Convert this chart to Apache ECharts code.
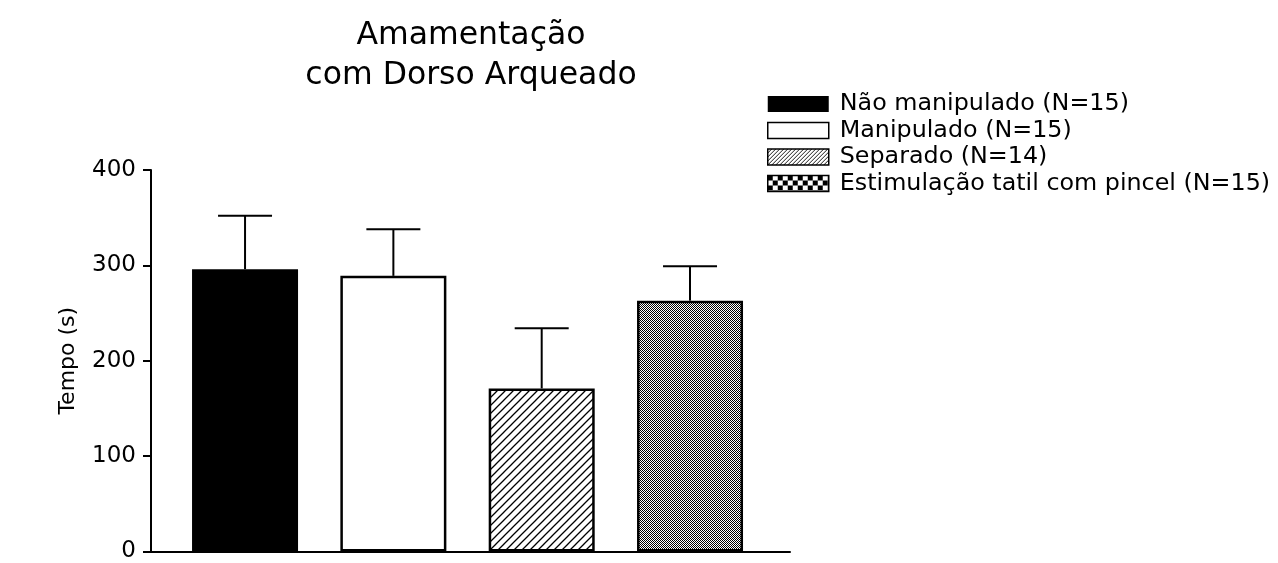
<!DOCTYPE html>
<html>
<head>
<meta charset="utf-8">
<script src="https://cdn.jsdelivr.net/npm/echarts@6/dist/echarts.min.js"></script>
<style>
  html, body { margin: 0; padding: 0; background: #fff; }
  #chart { width: 1278px; height: 563px; }
</style>
</head>
<body>
<div id="chart"></div>
<script>
// Group names (legend), mean time per group and the error (upper whisker) per group
const groups = ['Não manipulado (N=15)', 'Manipulado (N=15)', 'Separado (N=14)', 'Estimulação tatil com pincel (N=15)'];
const means = [296, 289, 171, 263];
const errors = [56, 49, 63, 36];
const yTicks = [0, 100, 200, 300, 400];

const FONT = 'DejaVu Sans';

// Fill patterns drawn on small canvases
function hatchPattern(size, width) {
  const c = document.createElement('canvas');
  c.width = c.height = size;
  const g = c.getContext('2d');
  g.fillStyle = '#fff';
  g.fillRect(0, 0, size, size);
  g.strokeStyle = '#000';
  g.lineWidth = width;
  g.beginPath();
  g.moveTo(0, size); g.lineTo(size, 0);
  g.moveTo(-size / 2, size / 2); g.lineTo(size / 2, -size / 2);
  g.moveTo(size / 2, size * 1.5); g.lineTo(size * 1.5, size / 2);
  g.stroke();
  return c;
}
function checkerPattern(cell) {
  const c = document.createElement('canvas');
  c.width = c.height = cell * 2;
  const g = c.getContext('2d');
  g.fillStyle = '#fff';
  g.fillRect(0, 0, cell * 2, cell * 2);
  g.fillStyle = '#000';
  g.fillRect(0, 0, cell, cell);
  g.fillRect(cell, cell, cell, cell);
  return c;
}

const barFills = [
  '#000',
  '#fff',
  { image: hatchPattern(8, 1.3), repeat: 'repeat' },
  { image: checkerPattern(1), repeat: 'repeat' }
];
const legendFills = [
  '#000',
  '#fff',
  { image: hatchPattern(4, 0.9), repeat: 'repeat' },
  { image: checkerPattern(5), repeat: 'repeat' }
];

const barSeries = groups.map((name, i) => ({
  name: name,
  type: 'bar',
  barWidth: 106,
  barGap: '-100%',
  data: [[i, means[i]]],
  itemStyle: { color: barFills[i], borderColor: '#000', borderWidth: i === 0 ? 0 : 2.5 },
  emphasis: { disabled: true },
  z: 2
}));

const errorSeries = {
  type: 'custom',
  name: 'erro',
  data: means.map((m, i) => [i, m, m + errors[i]]),
  z: 3,
  renderItem: function (params, api) {
    const x = api.value(0);
    const lo = api.coord([x, api.value(1)]);
    const hi = api.coord([x, api.value(2)]);
    const half = 27;
    const style = { stroke: '#000', lineWidth: 2 };
    return {
      type: 'group',
      children: [
        { type: 'line', shape: { x1: lo[0], y1: lo[1], x2: hi[0], y2: hi[1] }, style: style },
        { type: 'line', shape: { x1: hi[0] - half, y1: hi[1], x2: hi[0] + half, y2: hi[1] }, style: style }
      ]
    };
  }
};

const chart = echarts.init(document.getElementById('chart'), null, { renderer: 'canvas' });
chart.setOption({
  animation: false,
  backgroundColor: '#fff',
  title: {
    text: 'Amamentação\ncom Dorso Arqueado',
    left: 466,
    top: 11,
    textAlign: 'center',
    textStyle: { fontFamily: FONT, fontSize: 31.5, fontWeight: 'normal', color: '#000', lineHeight: 40 }
  },
  legend: {
    orient: 'vertical',
    left: 767,
    top: 92,
    padding: 0,
    itemWidth: 61,
    itemHeight: 16,
    itemGap: 2.5,
    icon: 'rect',
    selectedMode: false,
    textStyle: { fontFamily: FONT, fontSize: 23.8, color: '#000', padding: [0, 0, 0, 6] },
    data: groups.map((name, i) => ({
      name: name,
      itemStyle: { color: legendFills[i], borderColor: '#000', borderWidth: i === 0 ? 0 : 1.5 }
    }))
  },
  grid: { left: 151, top: 170, right: 488, bottom: 10, containLabel: false },
  xAxis: {
    type: 'value',
    min: -0.634,
    max: 3.674,
    axisLine: { show: true, onZero: false, lineStyle: { color: '#000', width: 2 } },
    axisTick: { show: false },
    axisLabel: { show: false },
    splitLine: { show: false }
  },
  yAxis: {
    type: 'value',
    min: yTicks[0],
    max: yTicks[yTicks.length - 1],
    interval: 100,
    name: 'Tempo (s)',
    nameLocation: 'middle',
    nameGap: 72,
    nameTextStyle: { fontFamily: FONT, fontSize: 22, color: '#000' },
    axisLine: { show: true, onZero: false, lineStyle: { color: '#000', width: 2 } },
    axisTick: { show: true, length: 8, lineStyle: { color: '#000', width: 2 } },
    axisLabel: { fontFamily: FONT, fontSize: 23, color: '#000', margin: 15 },
    splitLine: { show: false }
  },
  series: barSeries.concat([errorSeries])
});
</script>
</body>
</html>
